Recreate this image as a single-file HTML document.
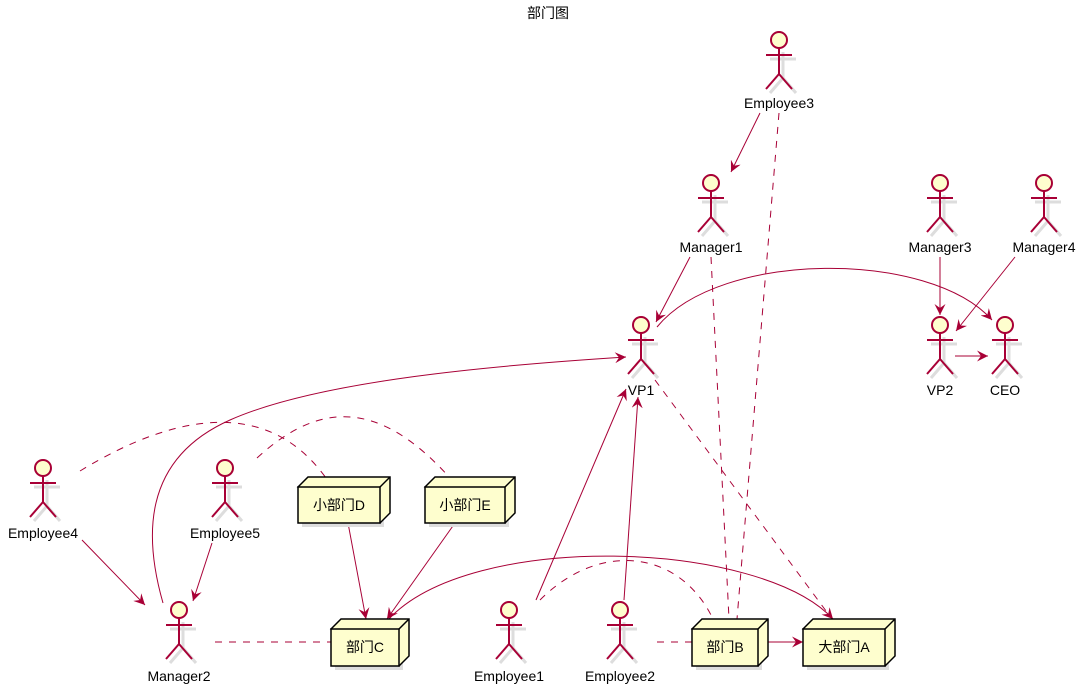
<!DOCTYPE html>
<html><head><meta charset="utf-8"><style>
html,body{margin:0;padding:0;background:#fff;}
svg{display:block;font-family:"Liberation Sans","Noto Sans CJK SC",sans-serif;}
</style></head><body>
<svg width="1090" height="694" viewBox="0 0 1090 694" xmlns="http://www.w3.org/2000/svg">
<defs>
<marker id="a" markerWidth="13" markerHeight="11" refX="11" refY="5.5" orient="auto" markerUnits="userSpaceOnUse">
<path d="M0,0 L11,5.5 L0,11 L4,5.5 Z" fill="#A80036"/>
</marker>
<g id="act">
<g transform="translate(4,4)" stroke="#ddd" stroke-width="3" fill="none">
<line x1="0" y1="8" x2="0" y2="34"/><line x1="-13" y1="15" x2="13" y2="15"/>
<line x1="0" y1="34" x2="-13" y2="49"/><line x1="0" y1="34" x2="13" y2="49"/></g>
<circle cx="0" cy="0" r="8" fill="#FEFECE" stroke="#A80036" stroke-width="2"/>
<g stroke="#A80036" stroke-width="2" fill="none">
<line x1="0" y1="8" x2="0" y2="34"/><line x1="-13" y1="15" x2="13" y2="15"/>
<line x1="0" y1="34" x2="-13" y2="49"/><line x1="0" y1="34" x2="13" y2="49"/></g>
</g>
</defs>
<text x="548" y="18" font-size="14" text-anchor="middle" fill="#000">部门图</text>

<g stroke="#A80036" stroke-width="1" fill="none">
<line x1="760" y1="113" x2="731" y2="172" marker-end="url(#a)"/>
<line x1="779" y1="113" x2="737" y2="619" stroke-dasharray="7,7"/>
<line x1="690" y1="257" x2="656" y2="322" marker-end="url(#a)"/>
<line x1="711" y1="257" x2="729" y2="619" stroke-dasharray="7,7"/>
<path d="M657,327 C720,250 930,250 992,320" marker-end="url(#a)"/>
<line x1="940" y1="257" x2="940" y2="315" marker-end="url(#a)"/>
<line x1="1015" y1="257" x2="956" y2="331" marker-end="url(#a)"/>
<line x1="955" y1="356" x2="988" y2="356" marker-end="url(#a)"/>
<line x1="655" y1="380" x2="832" y2="619" stroke-dasharray="7,7"/>
<path d="M163,603 C145,540 140,460 230,420 C320,380 500,365 626,357" marker-end="url(#a)"/>
<path d="M80,471 C180,410 270,400 326,478" stroke-dasharray="7,7"/>
<path d="M257,458 C320,400 380,400 450,478" stroke-dasharray="7,7"/>
<line x1="82" y1="540" x2="145" y2="605" marker-end="url(#a)"/>
<line x1="212" y1="543" x2="193" y2="601" marker-end="url(#a)"/>
<line x1="348" y1="523" x2="366" y2="619" marker-end="url(#a)"/>
<line x1="455" y1="523" x2="387" y2="619" marker-end="url(#a)"/>
<path d="M388,620 C470,530 760,540 833,619" marker-end="url(#a)"/>
<line x1="215" y1="642" x2="331" y2="642" stroke-dasharray="7,7"/>
<line x1="536" y1="600" x2="626" y2="389" marker-end="url(#a)"/>
<line x1="624" y1="600" x2="638" y2="397" marker-end="url(#a)"/>
<path d="M540,600 C600,540 680,550 713,619" stroke-dasharray="7,7"/>
<line x1="657" y1="642" x2="692" y2="642" stroke-dasharray="7,7"/>
<line x1="768" y1="642" x2="803" y2="642" marker-end="url(#a)"/>
</g>

<g font-size="14" fill="#000" text-anchor="middle">
<use href="#act" x="779" y="40"/><text x="779" y="108">Employee3</text>
<use href="#act" x="711" y="183"/><text x="711" y="252">Manager1</text>
<use href="#act" x="940" y="183"/><text x="940" y="252">Manager3</text>
<use href="#act" x="1044" y="183"/><text x="1044" y="252">Manager4</text>
<use href="#act" x="641" y="325"/><text x="641" y="395">VP1</text>
<use href="#act" x="940" y="325"/><text x="940" y="395">VP2</text>
<use href="#act" x="1005" y="325"/><text x="1005" y="395">CEO</text>
<use href="#act" x="43" y="468"/><text x="43" y="538">Employee4</text>
<use href="#act" x="225" y="468"/><text x="225" y="538">Employee5</text>
<use href="#act" x="179" y="610"/><text x="179" y="681">Manager2</text>
<use href="#act" x="509" y="610"/><text x="509" y="681">Employee1</text>
<use href="#act" x="620" y="610"/><text x="620" y="681">Employee2</text>
</g>

<g stroke="#000" stroke-width="1.5" fill="#FEFECE" font-size="14">
<g>
<rect x="302" y="491" width="82" height="36" fill="#ddd" stroke="none"/>
<path d="M298,487 l10,-10 h82 v36 l-10,10 z"/>
<rect x="298" y="487" width="82" height="36"/>
<line x1="380" y1="487" x2="390" y2="477"/>
<text x="339" y="510" text-anchor="middle" stroke="none" fill="#000">小部门D</text>
</g>
<g>
<rect x="429" y="491" width="80" height="36" fill="#ddd" stroke="none"/>
<path d="M425,487 l10,-10 h80 v36 l-10,10 z"/>
<rect x="425" y="487" width="80" height="36"/>
<line x1="505" y1="487" x2="515" y2="477"/>
<text x="465" y="510" text-anchor="middle" stroke="none" fill="#000">小部门E</text>
</g>
<g>
<rect x="335" y="633" width="68" height="37" fill="#ddd" stroke="none"/>
<path d="M331,629 l10,-10 h68 v37 l-10,10 z"/>
<rect x="331" y="629" width="68" height="37"/>
<line x1="399" y1="629" x2="409" y2="619"/>
<text x="365" y="652" text-anchor="middle" stroke="none" fill="#000">部门C</text>
</g>
<g>
<rect x="696" y="633" width="66" height="37" fill="#ddd" stroke="none"/>
<path d="M692,629 l10,-10 h66 v37 l-10,10 z"/>
<rect x="692" y="629" width="66" height="37"/>
<line x1="758" y1="629" x2="768" y2="619"/>
<text x="725" y="652" text-anchor="middle" stroke="none" fill="#000">部门B</text>
</g>
<g>
<rect x="807" y="633" width="82" height="37" fill="#ddd" stroke="none"/>
<path d="M803,629 l10,-10 h82 v37 l-10,10 z"/>
<rect x="803" y="629" width="82" height="37"/>
<line x1="885" y1="629" x2="895" y2="619"/>
<text x="844" y="652" text-anchor="middle" stroke="none" fill="#000">大部门A</text>
</g>
</g>
</svg>
</body></html>
